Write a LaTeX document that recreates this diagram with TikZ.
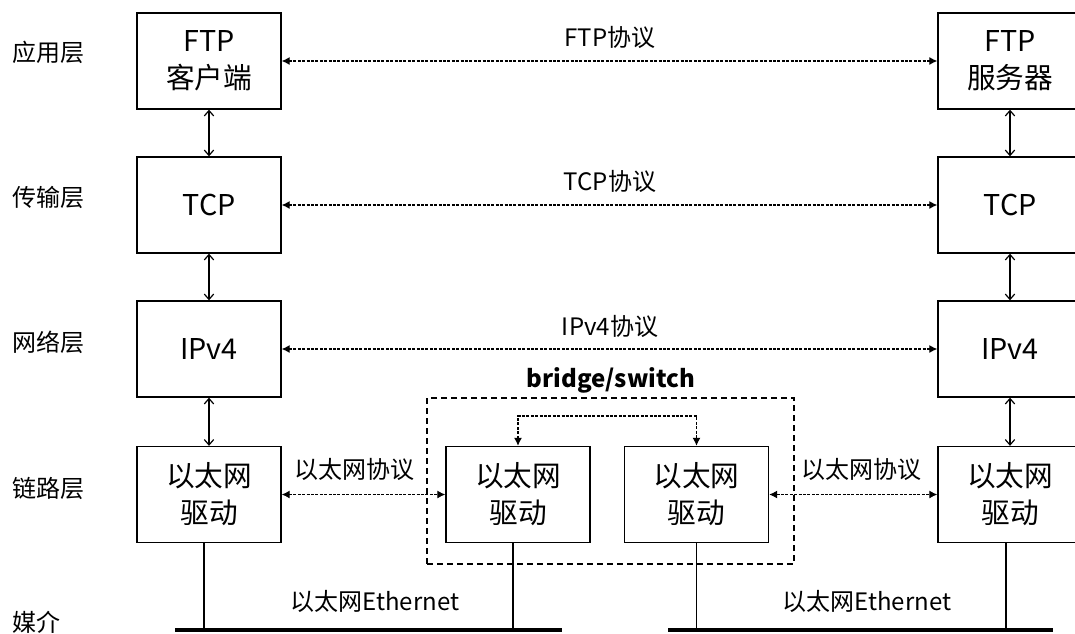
\documentclass[tikz,border=0pt]{standalone}
\usepackage{fontspec}
\setmainfont{Noto Sans CJK SC}
\usetikzlibrary{arrows.meta,calc}
\tikzset{
  layerbox/.style={draw,line width=1pt,minimum width=108pt,minimum height=72pt,inner sep=0pt,align=center,
    font=\fontsize{21.5pt}{27.75pt}\selectfont},
  lbl/.style={font=\fontsize{18pt}{22pt}\selectfont,inner sep=0pt},
  dotarrow/.style={densely dashed,dash pattern=on 2.2pt off 1.1pt,line width=0.9pt,
    {Latex[length=6pt,width=6pt]}-{Latex[length=6pt,width=6pt]}},
  solidarrow/.style={line width=0.9pt,{Straight Barb[length=4pt,width=7pt]}-{Straight Barb[length=4pt,width=7pt]}},
  busline/.style={line width=3pt},
  dropline/.style={line width=0.9pt},
  bridgebox/.style={draw,dashed,dash pattern=on 4.5pt off 3pt,line width=0.8pt}
}
\begin{document}
\begin{tikzpicture}[x=0.75pt,y=-0.75pt]
\clip (0,0) rectangle (1075,633);
\fill[white] (0,0) rectangle (1075,633);
% layer labels
\node[lbl,anchor=west] (la) at (12,52) {应用层};
\node[lbl,anchor=west] (lb) at (12,197) {传输层};
\node[lbl,anchor=west] (lc) at (12,342) {网络层};
\node[lbl,anchor=west] (ld) at (12,488) {链路层};
\node[lbl,anchor=west] (le) at (12,622) {媒介};
% left stack
\node[layerbox] (l1) at (209,61) {FTP\\客户端};
\node[layerbox] (l2) at (209,205) {TCP};
\node[layerbox] (l3) at (209,349) {IPv4};
\node[layerbox] (l4) at (209,494.5) {以太网\\驱动};
% right stack
\node[layerbox] (r1) at (1010,61) {FTP\\服务器};
\node[layerbox] (r2) at (1010,205) {TCP};
\node[layerbox] (r3) at (1010,349) {IPv4};
\node[layerbox] (r4) at (1010,494.5) {以太网\\驱动};
% bridge
\node[layerbox] (b1) at (518,494.5) {以太网\\驱动};
\node[layerbox] (b2) at (696.5,494.5) {以太网\\驱动};
\node[bridgebox,minimum width=275.25pt,minimum height=124.5pt] (bb) at (610.5,481) {};
\node[lbl,font=\fontsize{18pt}{22pt}\selectfont\bfseries] (bt) at (611,380) {bridge/switch};
% vertical arrows
\draw[solidarrow] (l1) -- (l2);
\draw[solidarrow] (l2) -- (l3);
\draw[solidarrow] (l3) -- (l4);
\draw[solidarrow] (r1) -- (r2);
\draw[solidarrow] (r2) -- (r3);
\draw[solidarrow] (r3) -- (r4);
% protocol arrows
\draw[dotarrow] (l1) -- (r1);
\draw[dotarrow] (l2) -- (r2);
\draw[dotarrow] (l3) -- (r3);
\draw[dotarrow] (l4) -- (b1);
\draw[dotarrow] (b2) -- (r4);
\draw[dotarrow] (b1.north) -- (b1.north |- 0,416) -| (b2.north);
\node[lbl] (p1) at (610,37) {FTP协议};
\node[lbl] (p2) at (610,181) {TCP协议};
\node[lbl] (p3) at (610,326) {IPv4协议};
\node[lbl] (p4) at (354,469) {以太网协议};
\node[lbl] (p5) at (861,469) {以太网协议};
% media
\coordinate (busA1) at (175,630);
\coordinate (busA2) at (562,630);
\coordinate (busB1) at (668,630);
\coordinate (busB2) at (1053,630);
\draw[busline] (busA1) -- (busA2);
\draw[busline] (busB1) -- (busB2);
\draw[dropline] ([xshift=-3.75pt]l4.south) -- ([xshift=-3.75pt]l4.south |- busA1);
\draw[dropline] ([xshift=-3.75pt]b1.south) -- ([xshift=-3.75pt]b1.south |- busA1);
\draw[dropline] (b2.south) -- (b2.south |- busB1);
\draw[dropline] ([xshift=-3pt]r4.south) -- ([xshift=-3pt]r4.south |- busB1);
\node[lbl] (e1) at (375,601) {以太网Ethernet};
\node[lbl] (e2) at (867,601) {以太网Ethernet};
\end{tikzpicture}
\end{document}
